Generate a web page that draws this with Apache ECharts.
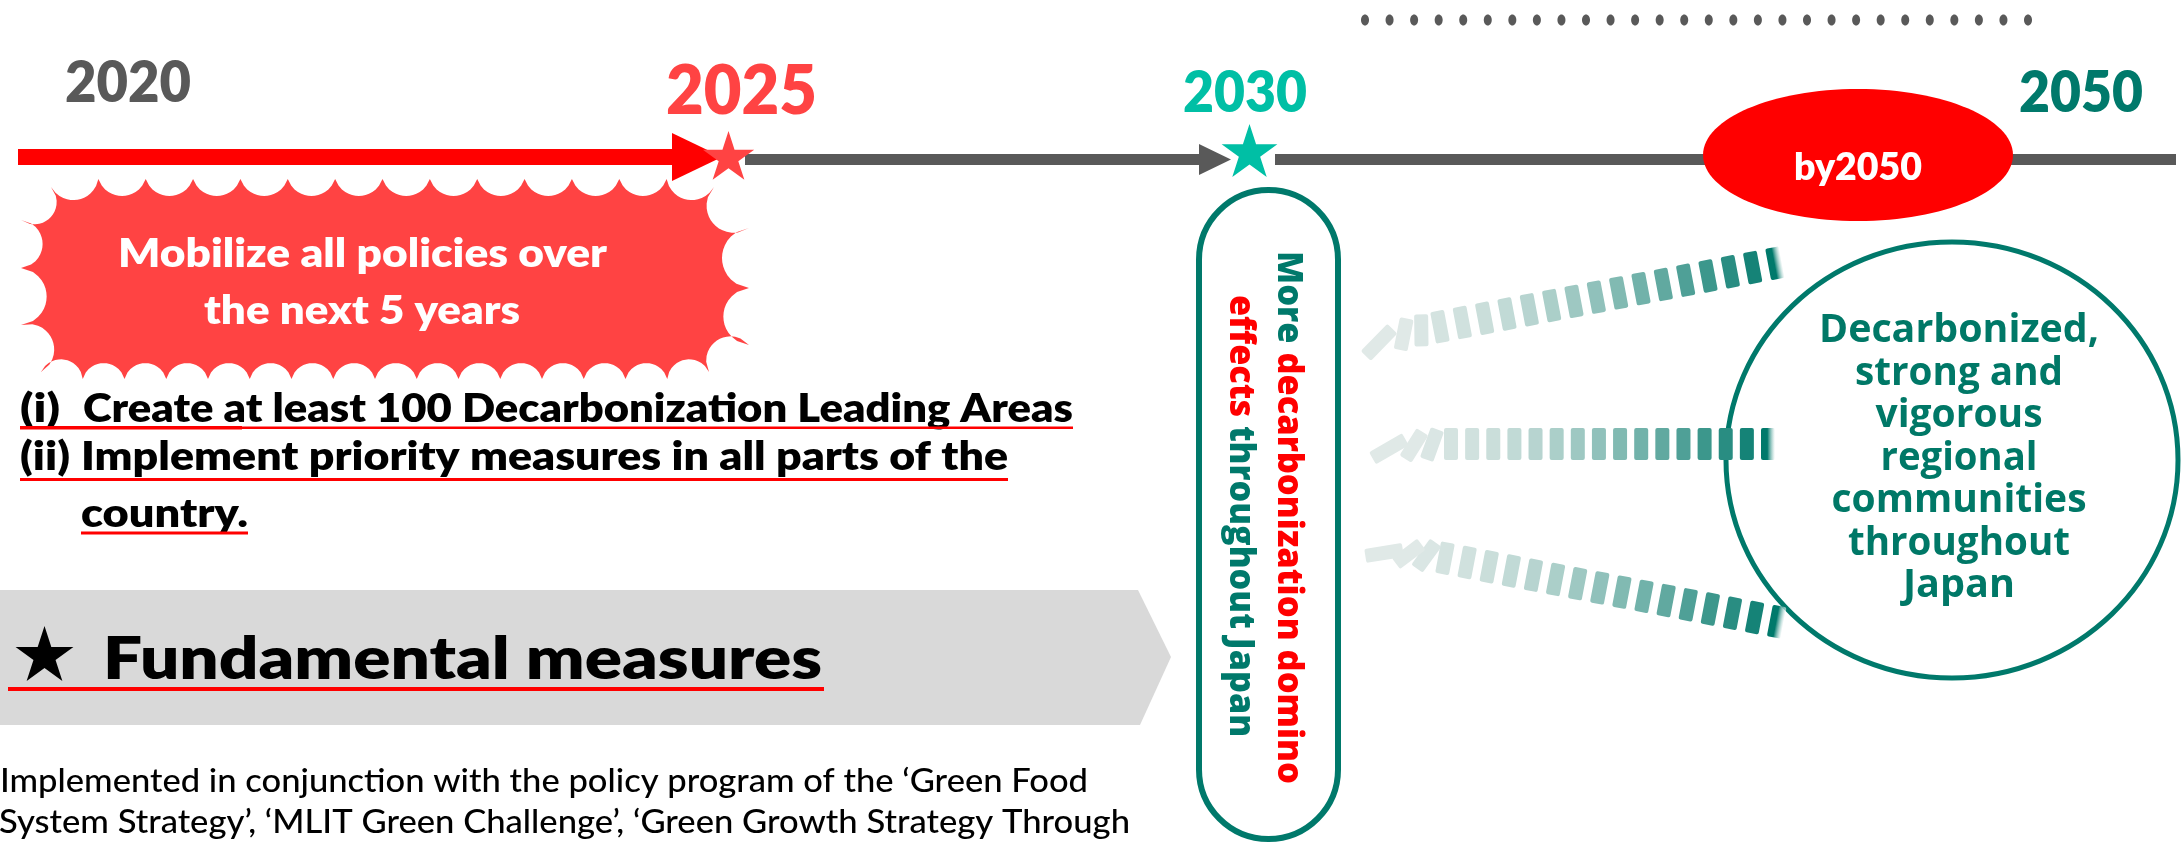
<!DOCTYPE html>
<html><head><meta charset="utf-8">
<script src="https://cdn.jsdelivr.net/npm/echarts@6/dist/echarts.min.js"></script>
<style>html,body{margin:0;padding:0;background:#fff;overflow:hidden}#c{width:2184px;height:843px}</style>
</head><body><div id="c"></div>
<script>
// ---------------- content ----------------
const milestoneYears = ['2020', '2025', '2030', '2050'];
const milestoneColors = ['#595959', '#FF4343', '#00BFA5', '#00796B'];
const goalLabel = 'by2050';
const cloudLines = ['Mobilize all policies over', 'the next 5 years'];
const measureMarks = ['(i)', '(ii)', ''];
const measureLines = ['Create at least 100 Decarbonization Leading Areas', 'Implement priority measures in all parts of the', 'country.'];
const fundamentalTitle = 'Fundamental measures';
const footnoteLines = ['Implemented in conjunction with the policy program of the \u2018Green Food', 'System Strategy\u2019, \u2018MLIT Green Challenge\u2019, \u2018Green Growth Strategy Through'];
const pillLine1 = [['More ', 't'], ['decarbonization domino', 'r']];
const pillLine2 = [['effects', 'r'], [' throughout Japan', 't']];
const goalCircleLines = ['Decarbonized,', 'strong and', 'vigorous', 'regional', 'communities', 'throughout', 'Japan'];
const dominoStanding = [16, 16, 16];
const dominoFallenTilt = [[55, 22, 10], [60, 32, 20], [70, 42, 25]];
const waitingDots = 28;

// ---------------- helpers ----------------
const mctx = document.createElement('canvas').getContext('2d');
function setF(size, fam, wt) { mctx.font = wt + ' ' + size + 'px ' + fam; }
function capSize(capH, fam, wt, ref) { setF(100, fam, wt); mctx.textBaseline = 'alphabetic'; const a = mctx.measureText(ref || 'H').actualBoundingBoxAscent; return capH * 100 / a; }
function measure(text, size, fam, wt) { setF(size, fam, wt); mctx.textBaseline = 'alphabetic'; return mctx.measureText(text).width; }
function midOff(size, fam, wt) { setF(size, fam, wt); mctx.textBaseline = 'middle'; const d = mctx.measureText('H').actualBoundingBoxDescent; mctx.textBaseline = 'alphabetic'; return d; }
function hText(text, x, base, size, fam, wt, color, w, align) {
  const sx = w ? w / measure(text, size, fam, wt) : 1;
  return { type: 'text', x: x, y: base - midOff(size, fam, wt), scaleX: sx, silent: true,
    style: { text: text, x: 0, y: 0, fill: color, fontSize: size, fontFamily: fam, fontWeight: wt, align: align || 'left', verticalAlign: 'middle' } };
}
function starPts(cx, cy, R, ratio) {
  const p = [];
  for (let i = 0; i < 10; i++) { const a = -Math.PI / 2 + i * Math.PI / 5; const rr = i % 2 ? R * (ratio || 0.382) : R; p.push([cx + rr * Math.cos(a), cy + rr * Math.sin(a)]); }
  return p;
}
function cloudPoly() {
  const cusps = [];
  const nTop = 14; for (let i = 0; i <= nTop; i++) cusps.push([51 + (714 - 51) * i / nTop, (i === 0 || i === nTop) ? 187 : 179]);
  [228, 288, 345].forEach(y => cusps.push([749, y]));
  const nBot = 16; for (let i = 0; i <= nBot; i++) cusps.push([709 - (709 - 41) * i / nBot, (i === 0 || i === nBot) ? 372 : 379]);
  [325, 268, 220].forEach(y => cusps.push([21, y]));
  const pts = [];
  for (let k = 0; k < cusps.length; k++) {
    const P = cusps[k], Q = cusps[(k + 1) % cusps.length];
    const dx = Q[0] - P[0], dy = Q[1] - P[1], c = Math.hypot(dx, dy);
    const nx = -dy / c, ny = dx / c;
    const d = Math.abs(dy) < Math.abs(dx) * 0.5 ? Math.min(17, 0.38 * c) : Math.min(27, 0.45 * c);
    const h = c / 2, Rr = (h * h + d * d) / (2 * d);
    for (let j = 0; j < 14; j++) {
      const t = j / 14, u = (t - 0.5) * c;
      const off = Math.sqrt(Math.max(0, Rr * Rr - u * u)) - (Rr - d);
      pts.push([P[0] + dx * t + nx * off, P[1] + dy * t + ny * off]);
    }
  }
  return pts;
}
function mix(a, b, t) { return 'rgb(' + a.map((v, i) => Math.round(v + (b[i] - v) * t)).join(',') + ')'; }

const E = [];
const BLACK = '#000000', RED = '#FF0000', CRED = '#FF4343', TEAL = '#00796B', GRAY = '#595959';
const CAL = 'Lato', MEI = "'Open Sans'";
const CB = '800', CR = '500', MB = '800', CIRW = '700';

// banner
E.push({ type: 'polygon', silent: true, shape: { points: [[0, 590], [1138, 590], [1171, 657], [1140, 725], [0, 725]] }, style: { fill: '#D9D9D9' } });
// cloud
E.push({ type: 'polygon', silent: true, shape: { points: cloudPoly() }, style: { fill: CRED } });

// timeline
E.push({ type: 'rect', silent: true, shape: { x: 18, y: 149, width: 655, height: 16 }, style: { fill: RED } });
E.push({ type: 'polygon', silent: true, shape: { points: [[672, 133], [722, 157], [672, 181]] }, style: { fill: RED } });
E.push({ type: 'rect', silent: true, shape: { x: 745, y: 154, width: 455, height: 11 }, style: { fill: GRAY } });
E.push({ type: 'polygon', silent: true, shape: { points: [[1199, 144], [1231, 159.5], [1199, 175]] }, style: { fill: GRAY } });
E.push({ type: 'rect', silent: true, shape: { x: 1275, y: 154, width: 901, height: 11 }, style: { fill: GRAY } });
E.push({ type: 'polygon', silent: true, shape: { points: starPts(728.5, 158, 27) }, style: { fill: CRED } });
E.push({ type: 'polygon', silent: true, shape: { points: starPts(1249.5, 153.3, 29.3) }, style: { fill: milestoneColors[2] } });

// dots
for (let i = 0; i < waitingDots; i++) {
  E.push({ type: 'ellipse', silent: true, shape: { cx: 1365 + (2028 - 1365) * i / (waitingDots - 1), cy: 20, rx: 4, ry: 5.5 }, style: { fill: GRAY } });
}

// goal ellipse
E.push({ type: 'ellipse', silent: true, shape: { cx: 1858, cy: 155, rx: 155, ry: 66 }, style: { fill: RED } });
(function () { const s = capSize(28, CAL, CB, 'b'); E.push(hText(goalLabel, 1794, 180, s, CAL, CB, '#FFFFFF', 128)); })();

// years
const yearBox = [[65, 102, 42, 126], [666, 114, 51, 151], [1183, 112, 42, 124], [2019, 112, 42, 124]];
milestoneYears.forEach((y, i) => {
  const b = yearBox[i]; const s = capSize(b[2], CAL, CB, y);
  E.push(hText(y, b[0], b[1], s, CAL, CB, milestoneColors[i], b[3]));
});

// cloud text
(function () {
  const s = capSize(30, CAL, CB, 'M');
  E.push(hText(cloudLines[0], 118, 267, s, CAL, CB, '#FFFFFF', 489));
  E.push(hText(cloudLines[1], 204, 324, s, CAL, CB, '#FFFFFF', 316));
})();

// measures
(function () {
  const s = capSize(30, CAL, CB, 'C');
  const rows = [[422, 83, 990, 40], [470, 81, 927, 50], [527, 81, 167, 0]];
  measureLines.forEach((t, i) => {
    const r = rows[i];
    if (measureMarks[i]) E.push(hText(measureMarks[i], 20, r[0], s, CAL, CB, BLACK, r[3]));
    E.push(hText(t, r[1], r[0], s, CAL, CB, BLACK, r[2]));
  });
  E.push({ type: 'rect', silent: true, shape: { x: 20, y: 426, width: 222, height: 3.5 }, style: { fill: RED } });
  E.push({ type: 'rect', silent: true, shape: { x: 20, y: 426.5, width: 1053, height: 2.5 }, style: { fill: RED } });
  E.push({ type: 'rect', silent: true, shape: { x: 20, y: 478, width: 988, height: 3 }, style: { fill: RED } });
  E.push({ type: 'rect', silent: true, shape: { x: 81, y: 531.5, width: 167, height: 3 }, style: { fill: RED } });
})();

// fundamental
E.push({ type: 'polygon', silent: true, shape: { points: starPts(44.5, 656.5, 30.4) }, style: { fill: BLACK } });
(function () { const s = capSize(44, CAL, CB, 'F'); E.push(hText(fundamentalTitle, 103, 679, s, CAL, CB, BLACK, 719)); })();
E.push({ type: 'rect', silent: true, shape: { x: 8, y: 687, width: 816, height: 4 }, style: { fill: RED } });

// footnote
(function () {
  const s = capSize(24, CAL, CR, 'I');
  E.push(hText(footnoteLines[0], 0, 792, s, CAL, CR, BLACK, 1088));
  E.push(hText(footnoteLines[1], -1, 833, s, CAL, CR, BLACK, 1131));
})();

// pill
E.push({ type: 'rect', silent: true, shape: { x: 1199, y: 190, width: 139, height: 649, r: 69.5 }, style: { fill: '#FFFFFF', stroke: TEAL, lineWidth: 6 } });
(function () {
  const fam = MEI, wt = MB;
  const s = capSize(25.5, fam, wt, 'J');
  const richStyle = { t: { fill: TEAL, fontSize: s, fontFamily: fam, fontWeight: wt }, r: { fill: RED, fontSize: s, fontFamily: fam, fontWeight: wt } };
  const mk = (parts, baseX, cy, len) => {
    const plain = parts.map(p => p[0]).join('');
    const rt = parts.map(p => '{' + p[1] + '|' + p[0] + '}').join('');
    const sx = len / measure(plain, s, fam, wt);
    return { type: 'text', silent: true, x: baseX + midOff(s, fam, wt), y: cy, rotation: -Math.PI / 2, scaleX: sx,
      style: { text: rt, rich: richStyle, fontSize: s, fontFamily: fam, fontWeight: wt, fill: TEAL, align: 'center', verticalAlign: 'middle' } };
  };
  E.push(mk(pillLine1, 1278, 517.5, 533));
  E.push(mk(pillLine2, 1230, 516, 442));
})();

// goal circle
E.push({ type: 'ellipse', silent: true, shape: { cx: 1952, cy: 460, rx: 226, ry: 218 }, style: { fill: 'none', stroke: TEAL, lineWidth: 5 } });
(function () {
  const s = capSize(28.5, MEI, CIRW, 'D');
  const bases = [342, 385, 427, 470, 512, 555, 597];
  const widths = [280, 208, 167, 157, 255, 222, 112];
  goalCircleLines.forEach((t, i) => E.push(hText(t, 1959, bases[i], s, MEI, CIRW, '#007867', widths[i], 'center')));
})();

// dominoes
(function () {
  const rowsGeo = [[[1440, 326.7], [1775, 263.3]], [[1451, 444], [1768, 444]], [[1445, 558.3], [1776.7, 621.7]]];
  const light = [212, 227, 224], dark = [0, 121, 107];
  const pw = 14, ph = 32;
  rowsGeo.forEach((g, r) => {
    const n = dominoStanding[r];
    const dx = g[1][0] - g[0][0], dy = g[1][1] - g[0][1];
    const len = Math.hypot(dx, dy), ux = dx / len, uy = dy / len;
    const rot = -Math.atan2(dy, dx);
    for (let i = 0; i < n; i++) {
      const t = i / (n - 1);
      const cx = g[0][0] + dx * t, cy = g[0][1] + dy * t;
      let fill = mix(light, dark, Math.pow(t, 1.5));
      if (i === n - 1) fill = { type: 'linear', x: 0, y: 0, x2: 1, y2: 0, colorStops: [{ offset: 0, color: '#00796B' }, { offset: 0.45, color: '#00796B' }, { offset: 1, color: 'rgba(255,255,255,0.6)' }] };
      E.push({ type: 'rect', silent: true, x: cx, y: cy, rotation: rot, shape: { x: -pw / 2, y: -ph / 2, width: pw, height: ph, r: 2 }, style: { fill: fill } });
    }
    const offs = [-19, -37, -62];
    dominoFallenTilt[r].slice().reverse().forEach((tilt, k) => {
      const tr = tilt * Math.PI / 180;
      const back = offs[k];
      const drop = (ph / 2) * (1 - Math.cos(tr)) * 0.6;
      const cx = g[0][0] + ux * back, cy = g[0][1] + uy * back + drop;
      const c = mix([224, 233, 231], light, k === 0 ? 0.5 : 0);
      E.push({ type: 'rect', silent: true, x: cx, y: cy, rotation: rot - tr, shape: { x: -pw / 2, y: -ph / 2 - (k === 2 ? 3 : 0), width: pw, height: ph + (k === 2 ? 6 : 0), r: 2 }, style: { fill: c } });
    });
  });
})();

const chart = echarts.init(document.getElementById('c'), null, { renderer: 'canvas', width: 2184, height: 843 });
chart.setOption({ backgroundColor: '#FFFFFF', animation: false, graphic: { elements: E } });
</script>
</body></html>
